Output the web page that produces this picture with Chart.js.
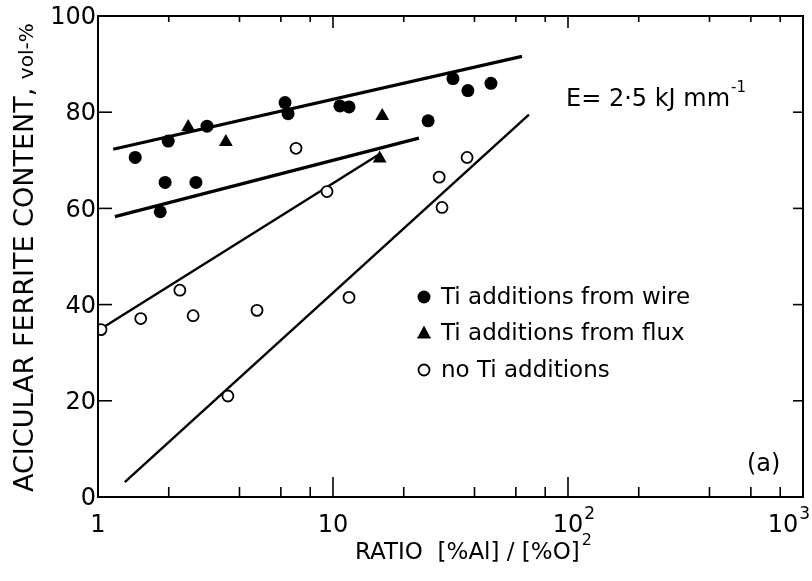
<!DOCTYPE html>
<html><head><meta charset="utf-8">
<script src="https://cdn.jsdelivr.net/npm/chart.js@4/dist/chart.umd.min.js"></script>
<style>html,body{margin:0;padding:0;background:#fff}canvas{display:block}</style>
</head><body>
<canvas id="c" width="812" height="581"></canvas>
<script>
// ---- data ----
const wireX = [1.44, 1.84, 1.93, 1.99, 2.61, 2.91, 6.25, 6.44, 10.7, 11.7, 25.4, 32.4, 37.5, 47];
const wireY = [70.6, 59.3, 65.4, 74.0, 65.4, 77.1, 82.0, 79.7, 81.3, 81.1, 78.2, 87.0, 84.5, 86.0];
const fluxX = [2.42, 3.5, 16.2, 15.8];
const fluxY = [76.9, 73.8, 79.2, 70.4];
const noTiX = [1.03, 1.52, 2.23, 2.54, 3.57, 4.75, 6.96, 9.43, 11.7, 28.3, 29.1, 37.2];
const noTiY = [34.8, 37.1, 43.0, 37.7, 21.0, 38.8, 72.5, 63.5, 41.5, 66.5, 60.2, 70.6];
const fitWireX = [1.16, 63.7],  fitWireY = [72.3, 91.6];
const fitFluxX = [1.18, 23.2],  fitFluxY = [58.3, 74.6];
const fitNoTiAX = [1.03, 15.8], fitNoTiAY = [35.0, 71.3];
const fitNoTiBX = [1.30, 68.2], fitNoTiBY = [3.1, 79.5];
const xTickValues = [1, 10, 100, 1000];
const xTickLabels = ['1', '10', '10', '10'];
const xTickSups = ['', '', '2', '3'];
const xMinorTicks = [2, 4, 6, 8, 20, 40, 60, 80, 200, 400, 600, 800];
const yTickValues = [0, 20, 40, 60, 80, 100];
const seriesNames = ['Ti additions from wire', 'Ti additions from flux', 'no Ti additions'];
const yTitle = 'ACICULAR FERRITE CONTENT, ';
const yTitleUnit = 'vol-%';
const xTitle = 'RATIO  [%Al] / [%O]';
const xTitleSup = '2';
const energyLabel = 'E= 2·5 kJ mm';
const energySup = '-1';
const panelLabel = '(a)';

const pts = (xs, ys) => xs.map((x, i) => ({x: x, y: ys[i]}));
const FONT = '"DejaVu Sans", sans-serif';

function lineDs(xs, ys, w) {
  return {type: 'line', data: pts(xs, ys), showLine: true, pointRadius: 0, borderColor: '#000',
          borderWidth: w, order: 10, fill: false, tension: 0};
}

function drawMarker(ctx, kind, x, y) {
  ctx.save();
  ctx.fillStyle = '#000'; ctx.strokeStyle = '#000';
  if (kind === 0) { ctx.beginPath(); ctx.arc(x, y, 6.5, 0, Math.PI * 2); ctx.fill(); }
  else if (kind === 1) { ctx.beginPath(); ctx.moveTo(x, y - 8); ctx.lineTo(x + 7, y + 5); ctx.lineTo(x - 7, y + 5); ctx.closePath(); ctx.fill(); }
  else { ctx.lineWidth = 1.8; ctx.beginPath(); ctx.arc(x, y, 5.5, 0, Math.PI * 2); ctx.stroke(); }
  ctx.restore();
}

const deco = {
  id: 'deco',
  afterDatasetsDraw(chart) {
    const ctx = chart.ctx, a = chart.chartArea;
    const xs = chart.scales.x, ys = chart.scales.y;
    ctx.save();
    ctx.strokeStyle = '#000'; ctx.fillStyle = '#000';
    // frame
    ctx.lineWidth = 2;
    ctx.strokeRect(a.left, a.top, a.right - a.left, a.bottom - a.top);
    // x ticks (inward, bottom and top)
    ctx.lineWidth = 1.6;
    const tick = (px, len) => {
      ctx.beginPath(); ctx.moveTo(px, a.bottom); ctx.lineTo(px, a.bottom - len); ctx.stroke();
      ctx.beginPath(); ctx.moveTo(px, a.top); ctx.lineTo(px, a.top + len * 0.6); ctx.stroke();
    };
    xTickValues.forEach(v => tick(xs.getPixelForValue(v), 20));
    xMinorTicks.forEach(v => tick(xs.getPixelForValue(v), 10));
    // y ticks (inward, left and right)
    yTickValues.forEach(v => {
      const py = ys.getPixelForValue(v);
      ctx.beginPath(); ctx.moveTo(a.left, py); ctx.lineTo(a.left + 14, py); ctx.stroke();
      ctx.beginPath(); ctx.moveTo(a.right, py); ctx.lineTo(a.right - 10, py); ctx.stroke();
    });
    // y tick labels
    ctx.font = '24px ' + FONT;
    ctx.textAlign = 'right'; ctx.textBaseline = 'middle';
    yTickValues.forEach(v => ctx.fillText(String(v), a.left - 2, ys.getPixelForValue(v) + 2));
    // x tick labels
    ctx.textBaseline = 'alphabetic';
    xTickValues.forEach((v, i) => {
      let px = xs.getPixelForValue(v);
      ctx.font = '24px ' + FONT;
      const w = ctx.measureText(xTickLabels[i]).width;
      ctx.font = '17px ' + FONT;
      const ws = xTickSups[i] ? ctx.measureText(xTickSups[i]).width : 0;
      let left = px - w / 2;
      if (i === xTickValues.length - 1) left = 812 - 3 - w - ws;
      ctx.textAlign = 'left';
      ctx.font = '24px ' + FONT;
      ctx.fillText(xTickLabels[i], left, 532);
      if (ws) { ctx.font = '17px ' + FONT; ctx.fillText(xTickSups[i], left + w + 1, 519); }
    });
    // x title
    ctx.font = '23px ' + FONT;
    ctx.textAlign = 'left';
    ctx.fillText(xTitle, 355, 559);
    const xtw = ctx.measureText(xTitle).width;
    ctx.font = '16px ' + FONT;
    ctx.fillText(xTitleSup, 355 + xtw + 2, 545);
    // y title (rotated)
    ctx.save();
    ctx.translate(33, 492);
    ctx.rotate(-Math.PI / 2);
    ctx.font = '27px ' + FONT;
    ctx.textAlign = 'left';
    ctx.fillText(yTitle, 0, 0);
    const ytw = ctx.measureText(yTitle).width;
    ctx.font = '20px ' + FONT;
    ctx.fillText(yTitleUnit, ytw, 0);
    ctx.restore();
    // energy label
    ctx.font = '24px ' + FONT;
    ctx.fillText(energyLabel, 566, 106);
    const ew = ctx.measureText(energyLabel).width;
    ctx.font = '15px ' + FONT;
    ctx.fillText(energySup, 566 + ew + 1, 92);
    // panel label
    ctx.font = '24px ' + FONT;
    ctx.fillText(panelLabel, 747, 471);
    // legend
    ctx.font = '23px ' + FONT;
    ctx.textBaseline = 'middle';
    seriesNames.forEach((n, i) => {
      const y = 297 + i * 36.5;
      drawMarker(ctx, i, 424, y);
      ctx.fillText(n, 441, y + 1);
    });
    ctx.restore();
  }
};

new Chart(document.getElementById('c'), {
  type: 'scatter',
  data: {
    datasets: [
      {label: seriesNames[0], data: pts(wireX, wireY), pointStyle: 'circle', pointRadius: 6.5,
       backgroundColor: '#000', borderColor: '#000', borderWidth: 0, order: 0},
      {label: seriesNames[1], data: pts(fluxX, fluxY), pointStyle: 'triangle', pointRadius: 8,
       backgroundColor: '#000', borderColor: '#000', borderWidth: 0, order: 0},
      {label: seriesNames[2], data: pts(noTiX, noTiY), pointStyle: 'circle', pointRadius: 5.5,
       backgroundColor: '#fff', borderColor: '#000', borderWidth: 1.8, order: 0},
      lineDs(fitWireX, fitWireY, 3.2),
      lineDs(fitFluxX, fitFluxY, 3.2),
      lineDs(fitNoTiAX, fitNoTiAY, 2.4),
      lineDs(fitNoTiBX, fitNoTiBY, 2.4)
    ]
  },
  options: {
    responsive: false,
    animation: false,
    layout: {padding: {top: 16, right: 9, left: 0, bottom: 0}},
    plugins: {legend: {display: false}, tooltip: {enabled: false}},
    scales: {
      x: {type: 'logarithmic', min: 1, max: 1000, ticks: {display: false},
          grid: {display: false}, border: {display: false},
          afterFit(s) { s.height = 84; }},
      y: {type: 'linear', min: 0, max: 100, ticks: {display: false},
          grid: {display: false}, border: {display: false},
          afterFit(s) { s.width = 98; }}
    }
  },
  plugins: [deco]
});
</script>
</body></html>
